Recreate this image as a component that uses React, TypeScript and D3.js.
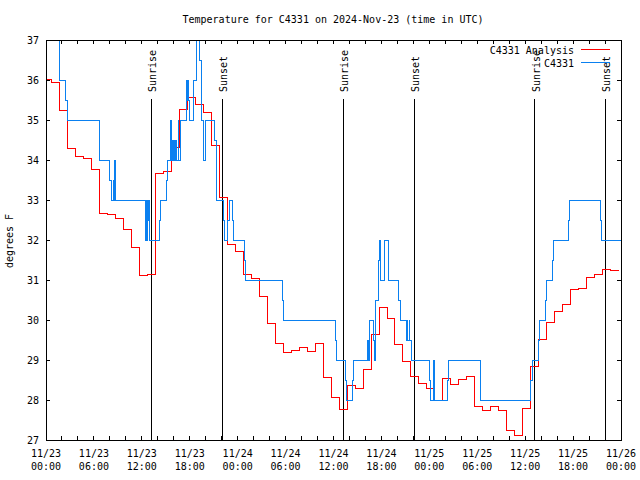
import React from "react";
import * as d3 from "d3";

const title = "Temperature for C4331 on 2024-Nov-23 (time in UTC)";
const yLabel = "degrees F";
const startUtc = Date.UTC(2024, 10, 23, 0, 0);
const endUtc = Date.UTC(2024, 10, 26, 0, 0);

// Analysis (hourly, hours since 11/23 00:00; first value from 0h, then steps at :42)
const analysisTemps = [36.02, 35.95, 35.24, 34.29, 34.08, 34.05, 33.77, 32.67, 32.63, 32.54, 32.27, 31.82,
  31.12, 31.14, 33.67, 33.72, 34.32, 35.27, 35.57, 35.39, 35.19, 34.37, 33.07, 31.88, 31.72, 31.15, 31.04,
  30.6, 29.92, 29.42, 29.2, 29.25, 29.32, 29.22, 29.42, 28.57, 28.07, 27.77, 28.37, 28.29, 28.77, 29.64,
  30.32, 30.04, 29.39, 28.97, 28.58, 28.42, 28.29, 27.98, 28.54, 28.38, 28.52, 28.58, 27.85, 27.75, 27.85,
  27.75, 27.25, 27.12, 27.79, 28.85, 29.52, 29.95, 30.22, 30.4, 30.77, 30.79, 31.07, 31.15, 31.27, 31.25];
const analysisEndHour = 71.7;

// Observations: hours since 11/23 00:00 and temperature
const obsHours = [0, 1.67, 1.75, 2.5, 2.63, 6.64, 8.01, 8.14, 8.43, 8.49, 8.55, 8.62, 8.68, 12.4, 12.46,
  12.52, 12.59, 12.65, 12.71, 12.77, 12.84, 12.9, 12.96, 13.02, 14.19, 14.36, 15.15, 15.24, 15.65, 15.74,
  15.9, 15.97, 16.07, 16.13, 16.19, 16.25, 16.32, 16.38, 16.57, 16.63, 16.78, 17.62, 17.68, 17.74, 17.81,
  17.94, 18.45, 18.87, 19.28, 19.5, 19.7, 19.91, 21.16, 21.29, 21.38, 22.2, 22.33, 22.75, 22.92, 23.33,
  23.42, 24.83, 24.96, 29.59, 29.71, 36.23, 36.4, 37.44, 37.57, 38.36, 38.48, 40.2, 40.26, 40.32, 40.38,
  40.48, 40.98, 41.13, 41.24, 41.61, 41.7, 41.79, 41.86, 41.91, 42.36, 42.86, 44.12, 44.33, 45.08, 45.2,
  45.29, 45.46, 45.54, 45.79, 48.08, 48.17, 48.5, 48.59, 48.67, 50.25, 50.38, 54.41, 60.73, 60.94, 61.65,
  61.77, 62.57, 62.7, 63.4, 63.52, 65.4, 65.53, 69.41, 69.53, 72];
const obsTemps = [37.5, 36.5, 36, 35.5, 35, 34, 33.5, 33, 33.5, 33, 33.5, 34, 33, 32.5, 32,
  33, 32, 32.5, 33, 32.5, 33, 32.5, 33, 32, 32.5, 33, 33.5, 34, 35, 34,
  34.5, 34, 34.5, 34, 34.5, 34, 34.5, 34, 35, 34, 35, 36, 35.5, 36, 35.5,
  35, 36, 37.5, 36.5, 35, 34, 35, 34.5, 34, 33, 32.5, 32, 32.5, 33, 32.5,
  32, 31.5, 31, 30.5, 30, 29.5, 29, 28.5, 28, 28.5, 29, 29.5, 29, 29.5, 29,
  30, 29.5, 29, 30.5, 31.5, 32, 31.5, 32, 31, 32, 31, 30.5, 30, 29.5, 30,
  29.5, 30, 29.5, 29, 28.5, 28, 29, 28.5, 28, 28.5, 29, 28, 28.5, 29, 29.5,
  30, 30.5, 31, 31.5, 32, 32.5, 33, 32.5, 32, 32];

const sunEvents = ["Sunrise", "Sunset", "Sunrise", "Sunset", "Sunrise", "Sunset"];
const sunHours = [13.15, 22.04, 37.23, 46.08, 61.23, 70.0];

const yTicks = [27, 28, 29, 30, 31, 32, 33, 34, 35, 36, 37];
const legendNames = ["C4331 Analysis", "C4331"];
const legendColors = ["#ff0000", "#0a80f0"];

const W = 640, H = 480;
const L = 46, R = 621, T = 40, B = 440;
const FONT = "'DejaVu Sans Mono', monospace";
const hr = (h: number) => new Date(startUtc + h * 3600000);

export default function App() {
  const x = d3.scaleUtc().domain([new Date(startUtc), new Date(endUtc)]).range([L, R]);
  const y = d3.scaleLinear().domain([27, 37]).range([B, T]);

  const aPts: [Date, number][] = analysisTemps.map((v, i) => [hr(i === 0 ? 0 : i - 0.3), v]);
  aPts.push([hr(analysisEndHour), analysisTemps[analysisTemps.length - 1]]);
  const oPts: [Date, number][] = obsHours.map((h, i) => [hr(h), obsTemps[i]]);

  const line = d3.line<[Date, number]>().x(d => x(d[0])).y(d => y(d[1])).curve(d3.curveStepAfter);

  const minorTicks = d3.utcHour.every(2)!.range(new Date(startUtc), new Date(endUtc + 1));
  const majorTicks = d3.utcHour.every(6)!.range(new Date(startUtc), new Date(endUtc + 1));
  const fmtD = d3.utcFormat("%m/%d");
  const fmtT = d3.utcFormat("%H:%M");

  return (
    <svg width={W} height={H} style={{ position: "absolute", left: 0, top: 0, background: "#fff" }}
      fontFamily={FONT} fontSize={10}>
      <defs>
        <clipPath id="plot"><rect x={L} y={T} width={R - L} height={B - T} /></clipPath>
      </defs>
      <rect x={0} y={0} width={W} height={H} fill="#fff" />
      <text x={333} y={23} textAnchor="middle">{title}</text>
      {/* y ticks */}
      {yTicks.map(t => (
        <g key={"y" + t} shapeRendering="crispEdges">
          <line x1={L} x2={L + 4} y1={y(t)} y2={y(t)} stroke="#000" />
          <line x1={R - 4} x2={R} y1={y(t)} y2={y(t)} stroke="#000" />
          <text x={39} y={y(t)} dy="0.35em" textAnchor="end">{t}</text>
        </g>
      ))}
      {minorTicks.map((d, i) => (
        <g key={"x" + i} shapeRendering="crispEdges">
          <line x1={x(d)} x2={x(d)} y1={B} y2={B - 4} stroke="#000" />
          <line x1={x(d)} x2={x(d)} y1={T} y2={T + 4} stroke="#000" />
        </g>
      ))}
      {majorTicks.map((d, i) => (
        <g key={"xl" + i}>
          <text x={x(d)} y={457} textAnchor="middle">{fmtD(d)}</text>
          <text x={x(d)} y={470} textAnchor="middle">{fmtT(d)}</text>
        </g>
      ))}
      <text transform={`translate(13,241) rotate(-90)`} textAnchor="middle">{yLabel}</text>
      {/* sun lines */}
      {sunHours.map((h, i) => (
        <g key={"s" + i}>
          <line x1={x(hr(h))} x2={x(hr(h))} y1={99} y2={B} stroke="#000" strokeWidth={1} shapeRendering="crispEdges" />
          <text transform={`translate(${x(hr(h)) + 5},92) rotate(-90)`} textAnchor="start">{sunEvents[i]}</text>
        </g>
      ))}
      <g clipPath="url(#plot)" fill="none" shapeRendering="crispEdges">
        <path d={line(aPts) || ""} stroke={legendColors[0]} strokeWidth={1} />
        <path d={line(oPts) || ""} stroke={legendColors[1]} strokeWidth={1} />
      </g>
      {/* legend */}
      {legendNames.map((n, i) => (
        <g key={"l" + i}>
          <text x={574} y={50 + i * 13} dy="0.35em" textAnchor="end">{n}</text>
          <line x1={581} x2={610} y1={49 + i * 13} y2={49 + i * 13} stroke={legendColors[i]} shapeRendering="crispEdges" />
        </g>
      ))}
      <rect x={L} y={T} width={R - L} height={B - T} fill="none" stroke="#000" strokeWidth={1} shapeRendering="crispEdges" />
    </svg>
  );
}
